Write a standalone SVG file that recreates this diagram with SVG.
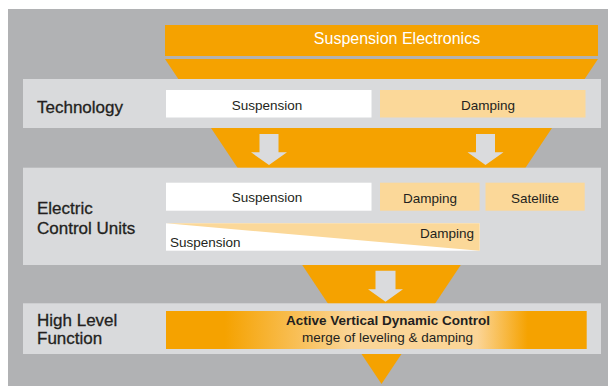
<svg xmlns="http://www.w3.org/2000/svg" width="608" height="386" viewBox="0 0 608 386">
  <defs>
    <style>
      .bg { fill: #B1B2B4; }
      .band { fill: #D9DADC; }
      .orange { fill: #F5A200; }
      .light { fill: #FBD899; }
      .white { fill: #FFFFFF; }
      .arrow { fill: #DADBDD; }
      text { font-family: "Liberation Sans", Arial, Helvetica, sans-serif; fill: #231F20; }
      .label { font-size: 17px; stroke: #231F20; stroke-width: 0.3; }
      .box { font-size: 13.5px; text-anchor: middle; }
      .title { font-size: 16px; fill: #FFFFFF; text-anchor: middle; }
      .bold { font-weight: bold; }
    </style>
    <linearGradient id="hlfGrad" x1="0" y1="0" x2="1" y2="0">
      <stop offset="0" stop-color="#F5A200"/>
      <stop offset="0.14" stop-color="#F5A200"/>
      <stop offset="0.44" stop-color="#FBD597"/>
      <stop offset="0.74" stop-color="#FBD597"/>
      <stop offset="0.86" stop-color="#F5A200"/>
      <stop offset="1" stop-color="#F5A200"/>
    </linearGradient>
  </defs>

  <!-- backdrop and funnel -->
  <rect class="bg" x="8" y="9" width="600" height="377"/>
  <polygon class="orange" points="165,59 598,59 381.5,384"/>

  <!-- heading bar -->
  <g id="suspension-electronics">
    <rect class="orange" x="165" y="25" width="433" height="31"/>
    <text class="title" x="397" y="43.5">Suspension Electronics</text>
  </g>

  <!-- Technology row -->
  <g id="technology">
    <rect class="band" x="23" y="79" width="578" height="49"/>
    <text class="label" x="37" y="112.5">Technology</text>
  </g>
  <g id="tech-suspension">
    <rect class="white" x="166" y="90" width="205.5" height="27.5"/>
    <text class="box" x="267" y="110">Suspension</text>
  </g>
  <g id="tech-damping">
    <rect class="light" x="380" y="90" width="205.5" height="27.5"/>
    <text class="box" x="488" y="110">Damping</text>
  </g>

  <!-- Electric Control Units row -->
  <g id="ecu">
    <rect class="band" x="23" y="167.7" width="578" height="97.3"/>
    <text class="label" x="37" y="214.3">Electric</text>
    <text class="label" x="37" y="234">Control Units</text>
  </g>
  <g id="ecu-suspension">
    <rect class="white" x="166" y="182.7" width="205.5" height="28"/>
    <text class="box" x="267" y="201.7">Suspension</text>
  </g>
  <g id="ecu-damping">
    <rect class="light" x="380" y="182.7" width="99.6" height="28"/>
    <text class="box" x="430" y="203.3">Damping</text>
  </g>
  <g id="ecu-satellite">
    <rect class="light" x="485.5" y="182.7" width="99.2" height="28"/>
    <text class="box" x="535" y="203.3">Satellite</text>
  </g>
  <g id="ecu-combined">
    <rect class="white" x="166" y="223.3" width="313.6" height="27.4"/>
    <polygon class="light" points="166,223.3 479.6,223.3 479.6,250.7"/>
    <text class="box" x="474" y="238.3" style="text-anchor:end">Damping</text>
    <text class="box" x="170" y="246.7" style="text-anchor:start">Suspension</text>
  </g>

  <!-- High Level Function row -->
  <g id="high-level-function">
    <rect class="band" x="23" y="303.3" width="578" height="50.7"/>
    <text class="label" x="37" y="325.7">High Level</text>
    <text class="label" x="37" y="344.3">Function</text>
  </g>
  <g id="avdc">
    <rect x="166" y="311" width="420.7" height="38" fill="url(#hlfGrad)"/>
    <text class="box bold" x="388" y="325">Active Vertical Dynamic Control</text>
    <text class="box" x="387.5" y="342.3">merge of leveling &amp; damping</text>
  </g>

  <!-- flow arrows between rows -->
  <g id="connectors">
    <polygon class="arrow" points="259.5,134 278.5,134 278.5,152.3 287,152.3 269,165 251,152.3 259.5,152.3"/>
    <polygon class="arrow" points="476,134 495,134 495,152.3 503.5,152.3 485.5,165 467.5,152.3 476,152.3"/>
    <polygon class="arrow" points="375.5,270.7 395.5,270.7 395.5,289.3 403,289.3 385.5,301.7 368,289.3 375.5,289.3"/>
  </g>
</svg>
